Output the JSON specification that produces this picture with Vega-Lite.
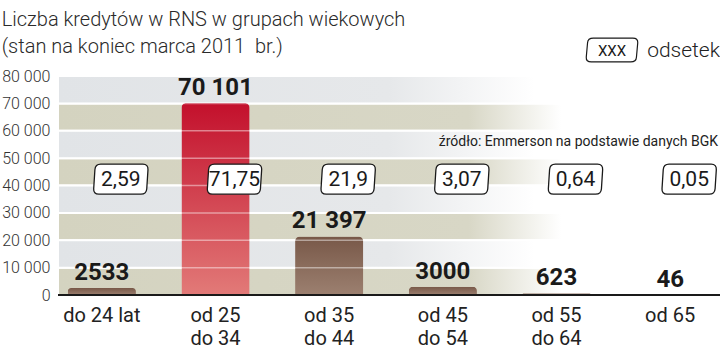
{
  "$schema": "https://vega.github.io/schema/vega-lite/v6.json",
  "width": 662,
  "height": 219,
  "autosize": {"type": "none"},
  "padding": {"left": 58, "top": 76, "right": 0, "bottom": 55},
  "config": {
    "view": {"stroke": null},
    "locale": {"number": {"decimal": ",", "thousands": " ", "grouping": [3], "currency": ["", " zł"]}},
    "axisY": {"tickCount": 8, "grid": false, "domain": false, "ticks": false, "title": null, "labelFont": "Roboto", "labelFontSize": 16, "labelFontWeight": 300, "labelColor": "#333333", "labelPadding": 8, "labelOverlap": false}
  },
  "title": {
    "text": ["Liczba kredytów w RNS w grupach wiekowych", "(stan na koniec marca 2011\u00a0 br.)"],
    "anchor": "start",
    "frame": "bounds",
    "font": "Roboto",
    "fontSize": 20,
    "fontWeight": 300,
    "color": "#2a2a2a",
    "lineHeight": 27,
    "offset": 4,
    "dy": 25
  },
  "datasets": {
    "kredyty": [
      {"grupa": "do 24 lat", "kredyty": 2533, "odsetek": "2,59"},
      {"grupa": "od 25 do 34", "kredyty": 70101, "odsetek": "71,75"},
      {"grupa": "od 35 do 44", "kredyty": 21397, "odsetek": "21,9"},
      {"grupa": "od 45 do 54", "kredyty": 3000, "odsetek": "3,07"},
      {"grupa": "od 55 do 64", "kredyty": 623, "odsetek": "0,64"},
      {"grupa": "od 65", "kredyty": 46, "odsetek": "0,05"}
    ],
    "pasy": [
      {"od": 0, "do": 10000, "kolor": "oliwkowy"},
      {"od": 10000, "do": 20000, "kolor": "jasny"},
      {"od": 20000, "do": 30000, "kolor": "oliwkowy"},
      {"od": 30000, "do": 40000, "kolor": "jasny"},
      {"od": 40000, "do": 50000, "kolor": "oliwkowy"},
      {"od": 50000, "do": 60000, "kolor": "jasny"},
      {"od": 60000, "do": 70000, "kolor": "oliwkowy"},
      {"od": 70000, "do": 80000, "kolor": "jasny"}
    ]
  },
  "data": {"name": "kredyty"},
  "layer": [
    {
      "data": {"name": "pasy"},
      "transform": [{"filter": "datum.kolor == 'oliwkowy'"}],
      "mark": {
        "type": "rect",
        "stroke": "white",
        "strokeWidth": 2,
        "color": {
          "gradient": "linear", "x1": 0, "y1": 0, "x2": 1, "y2": 0,
          "stops": [
            {"offset": 0, "color": "#d4d3c0"},
            {"offset": 0.62, "color": "#d8d7c6"},
            {"offset": 0.76, "color": "#ffffff"}
          ]
        }
      },
      "encoding": {
        "y": {"field": "od", "type": "quantitative", "scale": {"domain": [0, 80000], "nice": false},
          "axis": {"title": null, "tickCount": 8, "labelExpr": "format(datum.value, ',')"}},
        "y2": {"field": "do"}
      }
    },
    {
      "data": {"name": "pasy"},
      "transform": [{"filter": "datum.kolor == 'jasny'"}],
      "mark": {
        "type": "rect",
        "stroke": "white",
        "strokeWidth": 2,
        "color": {
          "gradient": "linear", "x1": 0, "y1": 0, "x2": 1, "y2": 0,
          "stops": [
            {"offset": 0, "color": "#e1e4e7"},
            {"offset": 0.5, "color": "#e6e8ea"},
            {"offset": 0.72, "color": "#ffffff"}
          ]
        }
      },
      "encoding": {
        "y": {"field": "od", "type": "quantitative"},
        "y2": {"field": "do"}
      }
    },
    {
      "transform": [{"filter": "datum.grupa != 'od 25 do 34'"}],
      "mark": {
        "type": "bar",
        "width": {"band": 0.6},
        "cornerRadiusTopLeft": 5,
        "cornerRadiusTopRight": 5,
        "color": {
          "gradient": "linear", "x1": 0, "y1": 0, "x2": 0, "y2": 1,
          "stops": [
            {"offset": 0, "color": "#785848"},
            {"offset": 1, "color": "#9c8070"}
          ]
        }
      },
      "encoding": {
        "x": {"field": "grupa", "type": "nominal", "sort": null,
          "scale": {"domain": ["do 24 lat", "od 25 do 34", "od 35 do 44", "od 45 do 54", "od 55 do 64", "od 65"], "range": [-13, 669], "paddingInner": 0, "paddingOuter": 0},
          "axis": {"title": null, "domain": false, "ticks": false, "labelAngle": 0, "labelFont": "Roboto", "labelFontSize": 20, "labelColor": "#222222", "labelPadding": 10, "labelLineHeight": 23, "labelBaseline": "top",
            "labelExpr": "indexof(datum.label, ' do ') > 0 ? [slice(datum.label, 0, indexof(datum.label, ' do ')), slice(datum.label, indexof(datum.label, ' do ') + 1)] : datum.label"}},
        "y": {"field": "kredyty", "type": "quantitative"}
      }
    },
    {
      "transform": [{"filter": "datum.grupa == 'od 25 do 34'"}],
      "mark": {
        "type": "bar",
        "width": {"band": 0.6},
        "cornerRadiusTopLeft": 5,
        "cornerRadiusTopRight": 5,
        "color": {
          "gradient": "linear", "x1": 0, "y1": 0, "x2": 0, "y2": 1,
          "stops": [
            {"offset": 0, "color": "#c3102c"},
            {"offset": 1, "color": "#e27a78"}
          ]
        }
      },
      "encoding": {
        "x": {"field": "grupa", "type": "nominal", "sort": null},
        "y": {"field": "kredyty", "type": "quantitative"}
      }
    },
    {
      "data": {"name": "pasy"},
      "mark": {"type": "rule", "color": "white", "strokeWidth": 1.5, "opacity": 0.45},
      "encoding": {"y": {"field": "do", "type": "quantitative"}}
    },
    {
      "mark": {"type": "rule", "color": "#1a1a1a", "strokeWidth": 2},
      "encoding": {"y": {"datum": 0}}
    },
    {
      "mark": {"type": "text", "font": "Roboto", "fontSize": 24, "fontWeight": "bold", "color": "#1a1a1a", "baseline": "alphabetic", "dy": -8},
      "encoding": {
        "x": {"field": "grupa", "type": "nominal", "sort": null},
        "y": {"field": "kredyty", "type": "quantitative"},
        "text": {"condition": {"test": "datum.kredyty >= 10000", "field": "kredyty", "type": "quantitative", "format": ","}, "field": "kredyty", "type": "quantitative", "format": "d"}
      }
    },
    {
      "mark": {"type": "point", "filled": true, "fill": "white", "stroke": "#1a1a1a", "strokeWidth": 1.3, "opacity": 1, "size": 3025, "xOffset": 19, "strokeJoin": "round",
        "shape": "M -0.73 -0.545 L 0.8 -0.545 Q 1 -0.545 0.987 -0.345 L 0.943 0.345 Q 0.93 0.545 0.73 0.545 L -0.8 0.545 Q -1 0.545 -0.987 0.345 L -0.943 -0.345 Q -0.93 -0.545 -0.73 -0.545 Z"},
      "encoding": {
        "x": {"field": "grupa", "type": "nominal", "sort": null},
        "y": {"datum": 42300}
      }
    },
    {
      "mark": {"type": "text", "font": "Roboto", "fontSize": 21, "color": "#1a1a1a", "baseline": "middle", "xOffset": 19, "dy": 1},
      "encoding": {
        "x": {"field": "grupa", "type": "nominal", "sort": null},
        "y": {"datum": 42300},
        "text": {"field": "odsetek", "type": "nominal"}
      }
    },
    {
      "data": {"values": [{}]},
      "mark": {"type": "text", "text": "źródło: Emmerson na podstawie danych BGK", "font": "Roboto", "fontSize": 14, "color": "#222222", "align": "right", "baseline": "middle", "dx": -2},
      "encoding": {"x": {"value": "width"}, "y": {"datum": 55800}}
    },
    {
      "data": {"values": [{}]},
      "mark": {"type": "point", "filled": true, "fill": "white", "stroke": "#1a1a1a", "strokeWidth": 1.2, "opacity": 1, "size": 2704, "xOffset": -108,
        "shape": "M -0.72 -0.46 L 0.8 -0.46 Q 1 -0.46 0.99 -0.28 L 0.94 0.28 Q 0.93 0.46 0.72 0.46 L -0.8 0.46 Q -1 0.46 -0.99 0.28 L -0.94 -0.28 Q -0.93 -0.46 -0.72 -0.46 Z"},
      "encoding": {"x": {"value": "width"}, "y": {"datum": 89500}}
    },
    {
      "data": {"values": [{}]},
      "mark": {"type": "text", "text": "XXX", "font": "Roboto", "fontSize": 15, "color": "#1a1a1a", "baseline": "middle", "xOffset": -108, "dy": 1},
      "encoding": {"x": {"value": "width"}, "y": {"datum": 89500}}
    },
    {
      "data": {"values": [{}]},
      "mark": {"type": "text", "text": "odsetek", "font": "Roboto", "fontSize": 21, "fontWeight": 300, "color": "#222222", "align": "right", "baseline": "middle", "dy": 1},
      "encoding": {"x": {"value": "width"}, "y": {"datum": 89500}}
    }
  ]
}
